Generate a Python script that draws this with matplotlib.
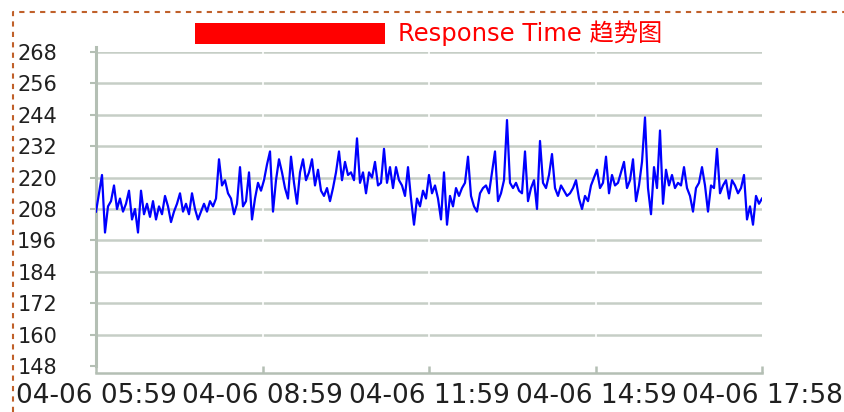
import matplotlib
matplotlib.use('Agg')
import matplotlib.pyplot as plt
import numpy as np
from matplotlib.lines import Line2D
from matplotlib.patches import Rectangle

plt.rcParams['font.family'] = ['DejaVu Sans', 'Noto Sans CJK SC']

# Response time values (ms), read left-to-right from the reference
response_ms = [
    207, 214, 221, 199, 209, 211, 217, 208, 212, 207,
    210, 215, 204, 208, 199, 215, 206, 210, 205, 211,
    204, 209, 206, 213, 209, 203, 207, 210, 214, 207,
    210, 206, 214, 208, 204, 207, 210, 207, 211, 209,
    212, 227, 217, 219, 214, 212, 206, 210, 224, 209,
    211, 222, 204, 212, 218, 215, 219, 225, 230, 207,
    219, 227, 222, 216, 212, 228, 218, 210, 222, 227,
    219, 222, 227, 217, 223, 215, 213, 216, 211, 216,
    222, 230, 219, 226, 221, 222, 219, 235, 218, 222,
    214, 222, 220, 226, 217, 218, 231, 218, 224, 216,
    224, 219, 217, 213, 224, 212, 202, 212, 209, 215,
    212, 221, 214, 217, 212, 204, 222, 202, 213, 209,
    216, 213, 216, 218, 228, 213, 209, 207, 214, 216,
    217, 214, 222, 230, 211, 214, 219, 242, 218, 216,
    218, 215, 214, 230, 211, 216, 219, 208, 234, 218,
    216, 221, 229, 216, 213, 217, 215, 213, 214, 216,
    219, 212, 208, 213, 211, 217, 220, 223, 216, 218,
    228, 214, 221, 217, 218, 222, 226, 216, 219, 227,
    211, 217, 226, 243, 216, 206, 224, 216, 238, 210,
    223, 217, 221, 216, 218, 217, 224, 216, 213, 207,
    216, 218, 224, 217, 207, 217, 216, 231, 214, 217,
    219, 212, 219, 217, 214, 216, 221, 204, 209, 202,
    213, 210, 212,
]
x_tick_minutes = [0, 180, 360, 540, 719]
x_tick_labels = ['04-06 05:59', '04-06 08:59', '04-06 11:59', '04-06 14:59', '04-06 17:58']
y_ticks = list(range(148, 269, 12))
title_text = 'Response Time 趋势图'

W, H = 845, 412
fig = plt.figure(figsize=(W / 100, H / 100), dpi=100)
ax = fig.add_axes([96 / W, 1 - 366 / H, 666 / W, 314 / H])

axis_col = '#b4bfb4'
grid_col = '#c6cec6'

minutes = np.linspace(0, 719, len(response_ms))
ax.plot(minutes, response_ms, color='#0000ff', lw=1.6, zorder=4)

ax.set_xlim(0, 719)
ax.set_ylim(148, 268)

for yv in y_ticks[1:]:
    ax.axhline(yv, color=grid_col, lw=1.8, zorder=1)
for xv in x_tick_minutes[1:-1]:
    ax.vlines(xv, 150, 270, color='white', lw=1.2, zorder=2, clip_on=False)

for s in ['top', 'right', 'left']:
    ax.spines[s].set_visible(False)
ax.spines['bottom'].set_position(('outward', 5))
ax.spines['bottom'].set_color(axis_col)
ax.spines['bottom'].set_linewidth(1.8)

# y axis line
ax.add_line(Line2D([0, 0], [-0.0, 1.015], transform=ax.transAxes, color=axis_col,
                   lw=2.2, clip_on=False, zorder=3))

ax.set_yticks(y_ticks)
ax.set_yticklabels([str(v) for v in y_ticks])
ax.tick_params(axis='y', length=4, width=1.5, color=axis_col, pad=24,
               labelsize=15, labelcolor='#202020')
ax.set_xticks(x_tick_minutes)
ax.set_xticklabels(x_tick_labels)
ax.tick_params(axis='x', direction='in', length=5, width=1.8, color=axis_col, pad=7,
               labelsize=19, labelcolor='#202020')

# title: redacted block + visible text
fig.add_artist(Rectangle((195 / W, 1 - 44 / H), 190 / W, 21 / H,
                         transform=fig.transFigure, color='#ff0000', lw=0))
fig.text(398 / W, 1 - 33 / H, title_text, color='#ff0000', fontsize=17.5,
         ha='left', va='center')

# dashed border
fig.add_artist(Line2D([13 / W, 13 / W, 1.0], [0, 1 - 12 / H, 1 - 12 / H],
                      transform=fig.transFigure, color='#c0602a', lw=1.5,
                      ls=(0, (2.5, 2.5))))

fig.savefig('out.png', dpi=100)
